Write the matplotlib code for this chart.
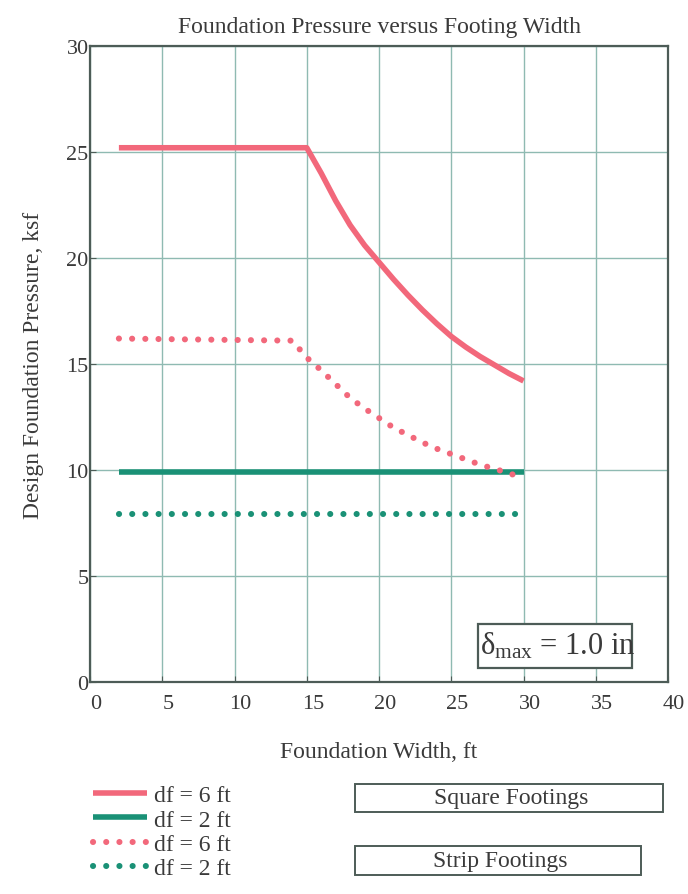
import matplotlib
matplotlib.use("Agg")
import matplotlib.pyplot as plt
import matplotlib.transforms as mtransforms
from matplotlib.patches import Rectangle

plt.rcParams['font.family'] = ['Liberation Serif', 'DejaVu Serif']
plt.rcParams['mathtext.fontset'] = 'custom'
plt.rcParams['mathtext.rm'] = 'Liberation Serif'
plt.rcParams['mathtext.it'] = 'Liberation Serif:italic'

# ---- data ----
sq6_x = [2, 15, 16, 17, 18, 19, 20, 21, 22, 23, 24, 25, 26, 27, 28, 29, 30]
sq6_y = [25.2, 25.2, 24.0, 22.7, 21.55, 20.6, 19.8, 19.0, 18.25, 17.55, 16.9, 16.3, 15.8, 15.35, 14.95, 14.55, 14.2]

sq2_x = [2, 30]
sq2_y = [9.9, 9.9]

st6_x = [2, 14, 15, 16, 17, 18, 19, 20, 21, 22, 23, 24, 25, 26, 27, 28, 29, 30]
st6_y = [16.2, 16.1, 15.3, 14.7, 14.05, 13.4, 12.9, 12.45, 12.0, 11.65, 11.3, 11.0, 10.75, 10.5, 10.25, 10.05, 9.85, 9.6]

st2_x = [2, 30]
st2_y = [7.9, 7.9]

labels = ["df = 6 ft", "df = 2 ft", "df = 6 ft", "df = 2 ft"]
x_ticks = [0, 5, 10, 15, 20, 25, 30, 35, 40]
y_ticks = [0, 5, 10, 15, 20, 25, 30]

red = '#f2687b'
green = '#1a9176'
grid_c = '#8fbab2'
spine_c = '#4d5c57'
text_c = '#3a3a3a'
fs = 17

fig = plt.figure(figsize=(6.88, 8.95), dpi=100)
ax = fig.add_axes([0.1308, 0.2369, 0.8402, 0.7106])

lw = 4.0
dot = (0, (0.01, 2.15))
l1, = ax.plot(sq6_x, sq6_y, color=red, lw=lw, solid_capstyle='butt', zorder=3)
l2, = ax.plot(sq2_x, sq2_y, color=green, lw=lw, solid_capstyle='butt', zorder=3)
l3, = ax.plot(st6_x, st6_y, color=red, lw=4.4, linestyle=dot, dash_capstyle='round', zorder=3)
l4, = ax.plot(st2_x, st2_y, color=green, lw=4.4, linestyle=dot, dash_capstyle='round', zorder=3)

ax.set_xlim(0, 40)
ax.set_ylim(0, 30)
ax.set_xticks(x_ticks)
ax.set_yticks(y_ticks)
ax.grid(True, color=grid_c, lw=1.0)
ax.set_axisbelow(True)
for s in ax.spines.values():
    s.set_color(spine_c)
    s.set_linewidth(1.6)
ax.tick_params(direction='in', length=4, color=spine_c, labelsize=16,
               labelcolor=text_c)
ax.tick_params(axis='x', pad=9)
ax.tick_params(axis='y', pad=1)

# shift x tick labels slightly right, as in the reference
offset = mtransforms.ScaledTranslation(0.06, 0, fig.dpi_scale_trans)
for lab in ax.get_xticklabels():
    lab.set_transform(lab.get_transform() + offset)

ax.set_title("Foundation Pressure versus Footing Width", fontsize=fs,
             color=text_c, pad=10)
ax.set_xlabel("Foundation Width, ft", fontsize=fs, color=text_c, labelpad=20)
ax.set_ylabel("Design Foundation Pressure, ksf", fontsize=fs, color=text_c, labelpad=16)

# annotation box
ax.add_patch(Rectangle((0.671, 0.022), 0.267, 0.069, transform=ax.transAxes,
                       facecolor='white', edgecolor=spine_c, lw=1.6, zorder=4))
ax.text(0.674, 0.058, r"$\mathrm{\delta}_{\mathrm{max}}$ = 1.0 in", transform=ax.transAxes,
        fontsize=22, color=text_c, ha='left', va='center', zorder=5)

fig.legend([l1, l2, l3, l4], labels, loc='upper left',
           bbox_to_anchor=(0.135, 0.122), frameon=False, fontsize=fs,
           handlelength=2.3, handletextpad=0.3, labelspacing=0.12,
           labelcolor=text_c, borderaxespad=0, borderpad=0)

# footing type boxes
fig.add_artist(Rectangle((0.516, 0.0916), 0.448, 0.0313, transform=fig.transFigure,
                         facecolor='white', edgecolor=spine_c, lw=1.4))
fig.text(0.743, 0.1073, "Square Footings", ha='center', va='center', fontsize=fs,
         color=text_c)
fig.add_artist(Rectangle((0.516, 0.0212), 0.416, 0.0324, transform=fig.transFigure,
                         facecolor='white', edgecolor=spine_c, lw=1.4))
fig.text(0.727, 0.0374, "Strip Footings", ha='center', va='center', fontsize=fs,
         color=text_c)

fig.savefig("out.png", dpi=100)
